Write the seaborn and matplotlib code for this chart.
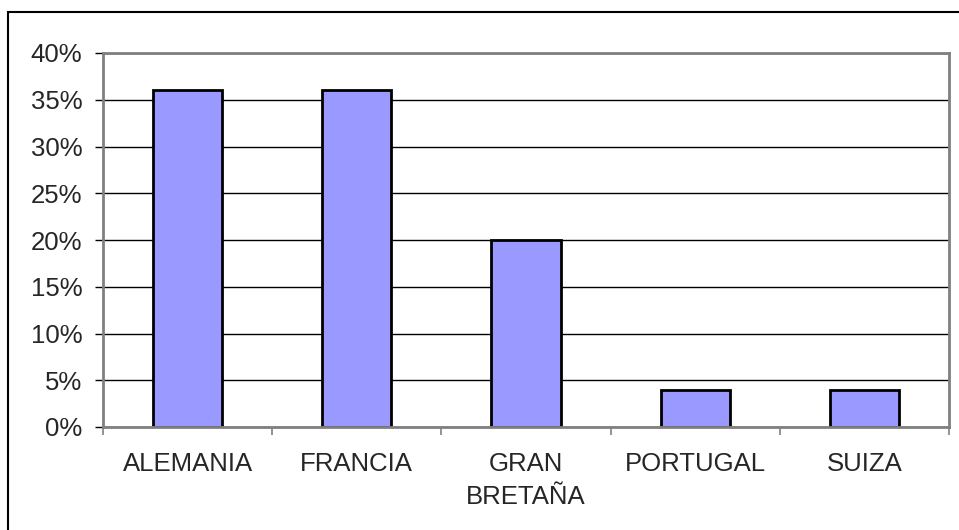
import numpy as np
import seaborn as sns
import matplotlib.pyplot as plt
from matplotlib.patches import Rectangle
from matplotlib.ticker import PercentFormatter, FixedLocator

paises = ["ALEMANIA", "FRANCIA", "GRAN\nBRETAÑA", "PORTUGAL", "SUIZA"]
porcentajes = [36, 36, 20, 4, 4]

sns.set_style("white")
plt.rcParams["font.family"] = ["Liberation Sans", "DejaVu Sans"]

fig = plt.figure(figsize=(9.59, 5.30), dpi=100)
ax = fig.add_axes([103 / 959, 1 - 427 / 530, (949 - 103) / 959, (427 - 53) / 530])

sns.barplot(
    x=paises,
    y=porcentajes,
    color="#9999FF",
    saturation=1,
    edgecolor="black",
    linewidth=2,
    width=0.41,
    ax=ax,
)

ax.set_xlim(-0.5, len(paises) - 0.5)
ax.set_ylim(0, 40)
ax.set_yticks(np.arange(0, 41, 5))
ax.yaxis.set_major_formatter(PercentFormatter(decimals=0))
ax.yaxis.grid(True, color="black", linewidth=1)
ax.set_axisbelow(True)

# etiquetas centradas, marcas entre categorias
ax.xaxis.set_minor_locator(FixedLocator(np.arange(-0.5, len(paises), 1)))
ax.tick_params(axis="x", which="major", length=0, pad=18, labelsize=18.5)
ax.tick_params(axis="x", which="minor", length=6, width=1.2, color="#808080", bottom=True)
ax.tick_params(axis="y", length=6, width=1, color="black", pad=9, labelsize=18.5, left=True)
for lbl in ax.get_xticklabels():
    lbl.set_linespacing(1.45)

for s in ["left", "bottom", "top", "right"]:
    ax.spines[s].set_visible(True)
    ax.spines[s].set_color("#808080")
    ax.spines[s].set_linewidth(2)

ax.set_xlabel("")
ax.set_ylabel("")

# marco exterior
fig.patches.append(Rectangle((8 / 959, -0.1), 1.2, 1 - 12 / 530 + 0.1,
                             transform=fig.transFigure, fill=False,
                             edgecolor="black", linewidth=1.5))

fig.savefig("out.png", dpi=100)
